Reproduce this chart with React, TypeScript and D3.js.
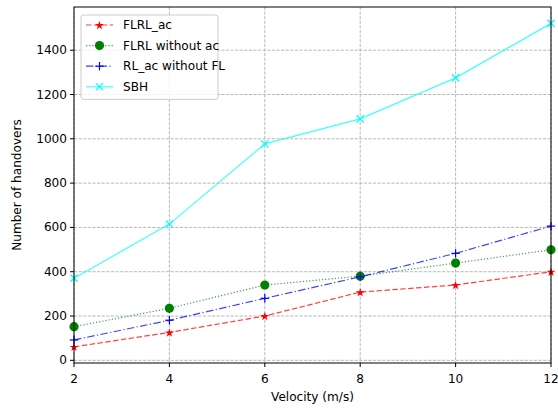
import React from "react";
import * as d3 from "d3";

const velocities = [2, 4, 6, 8, 10, 12];
const flrlAc = [61, 126, 200, 308, 340, 400];
const flrlWithoutAc = [152, 235, 340, 380, 439, 499];
const rlAcWithoutFl = [92, 181, 280, 377, 483, 606];
const sbh = [371, 615, 977, 1090, 1275, 1521];
const yTicks = [0, 200, 400, 600, 800, 1000, 1200, 1400];
const seriesNames = ["FLRL_ac", "FLRL without ac", "RL_ac without FL", "SBH"];

const W = 558;
const H = 408;
const left = 74;
const right = 551;
const top = 7;
const bottom = 363;
const FONT = "'DejaVu Sans', sans-serif";
const FS = 12.1;

type Marker = "star" | "circle" | "plus" | "x";
const series = [
  { name: seriesNames[0], values: flrlAc, color: "red", dash: "5.5,2.4", marker: "star" as Marker },
  { name: seriesNames[1], values: flrlWithoutAc, color: "green", dash: "1.2,2", marker: "circle" as Marker },
  { name: seriesNames[2], values: rlAcWithoutFl, color: "blue", dash: "7.5,2.4,1.2,2.4", marker: "plus" as Marker },
  { name: seriesNames[3], values: sbh, color: "cyan", dash: "none", marker: "x" as Marker },
];

function MarkerShape({ kind, x, y, color }: { kind: Marker; x: number; y: number; color: string }) {
  if (kind === "circle") return <circle cx={x} cy={y} r={4.6} fill={color} />;
  if (kind === "star") {
    const path = d3.symbol(d3.symbolStar, 24)();
    return <path d={path || ""} transform={`translate(${x},${y + 0.5})`} fill={color} />;
  }
  if (kind === "plus") {
    const s = 4.2;
    return (
      <g stroke={color} strokeWidth={1.2}>
        <line x1={x - s} x2={x + s} y1={y} y2={y} />
        <line x1={x} x2={x} y1={y - s} y2={y + s} />
      </g>
    );
  }
  const s = 3.6;
  return (
    <g stroke={color} strokeWidth={1.2}>
      <line x1={x - s} x2={x + s} y1={y - s} y2={y + s} />
      <line x1={x - s} x2={x + s} y1={y + s} y2={y - s} />
    </g>
  );
}

export default function App() {
  const x = d3.scaleLinear().domain([2, 12]).range([left, right]);
  const y = d3.scaleLinear().domain([-12, 1595]).range([bottom, top]);
  const line = d3
    .line<number>()
    .x((_, i) => x(velocities[i]))
    .y((d) => y(d));

  const legendX = 81;
  const legendY = 15;
  const legendW = 137;
  const rowH = 20.6;

  return (
    <svg width={W} height={H} style={{ position: "absolute", left: 0, top: 0, background: "white" }}>
      <rect width={W} height={H} fill="white" />
      {/* grid */}
      <g stroke="#b0b0b0" strokeWidth={0.9} strokeDasharray="3.2,1.4">
        {velocities.map((v) => (
          <line key={`gx${v}`} x1={x(v)} x2={x(v)} y1={top} y2={bottom} />
        ))}
        {yTicks.map((t) => (
          <line key={`gy${t}`} x1={left} x2={right} y1={y(t)} y2={y(t)} />
        ))}
      </g>
      {/* series */}
      {series.map((s) => (
        <g key={s.name}>
          <path
            d={line(s.values) || ""}
            fill="none"
            stroke={s.color}
            strokeOpacity={0.75}
            strokeWidth={1.2}
            strokeDasharray={s.dash}
          />
          {s.values.map((v, i) => (
            <MarkerShape key={i} kind={s.marker} x={x(velocities[i])} y={y(v)} color={s.color} />
          ))}
        </g>
      ))}
      {/* spines */}
      <rect x={left} y={top} width={right - left} height={bottom - top} fill="none" stroke="black" strokeWidth={1} />
      {/* ticks and axis labels */}
      <g fontFamily={FONT} fontSize={FS} fill="#000">
        {velocities.map((v) => (
          <g key={`tx${v}`}>
            <line x1={x(v)} x2={x(v)} y1={bottom} y2={bottom + 4} stroke="black" strokeWidth={1} />
            <text x={x(v)} y={bottom + 16} textAnchor="middle" dominantBaseline="middle">
              {v}
            </text>
          </g>
        ))}
        {yTicks.map((t) => (
          <g key={`ty${t}`}>
            <line x1={left - 4} x2={left} y1={y(t)} y2={y(t)} stroke="black" strokeWidth={1} />
            <text x={left - 7} y={y(t)} textAnchor="end" dominantBaseline="central">
              {t}
            </text>
          </g>
        ))}
        <text x={(left + right) / 2} y={397} textAnchor="middle" dominantBaseline="middle">
          Velocity (m/s)
        </text>
        <text
          transform={`translate(17,${(top + bottom) / 2}) rotate(-90)`}
          textAnchor="middle"
          dominantBaseline="middle"
        >
          Number of handovers
        </text>
      </g>
      {/* legend */}
      <g>
        <rect
          x={legendX}
          y={legendY}
          width={legendW}
          height={rowH * 4 + 2}
          rx={2.5}
          fill="white"
          fillOpacity={0.8}
          stroke="#cccccc"
          strokeWidth={1}
        />
        {series.map((s, i) => {
          const cy = legendY + 10 + i * rowH;
          return (
            <g key={`lg${s.name}`}>
              <line
                x1={86}
                x2={113}
                y1={cy}
                y2={cy}
                stroke={s.color}
                strokeOpacity={0.75}
                strokeWidth={1.2}
                strokeDasharray={s.dash}
              />
              <MarkerShape kind={s.marker} x={99.5} y={cy} color={s.color} />
              <text x={123} y={cy} fontFamily={FONT} fontSize={FS} dominantBaseline="central" fill="#000">
                {s.name}
              </text>
            </g>
          );
        })}
      </g>
    </svg>
  );
}
